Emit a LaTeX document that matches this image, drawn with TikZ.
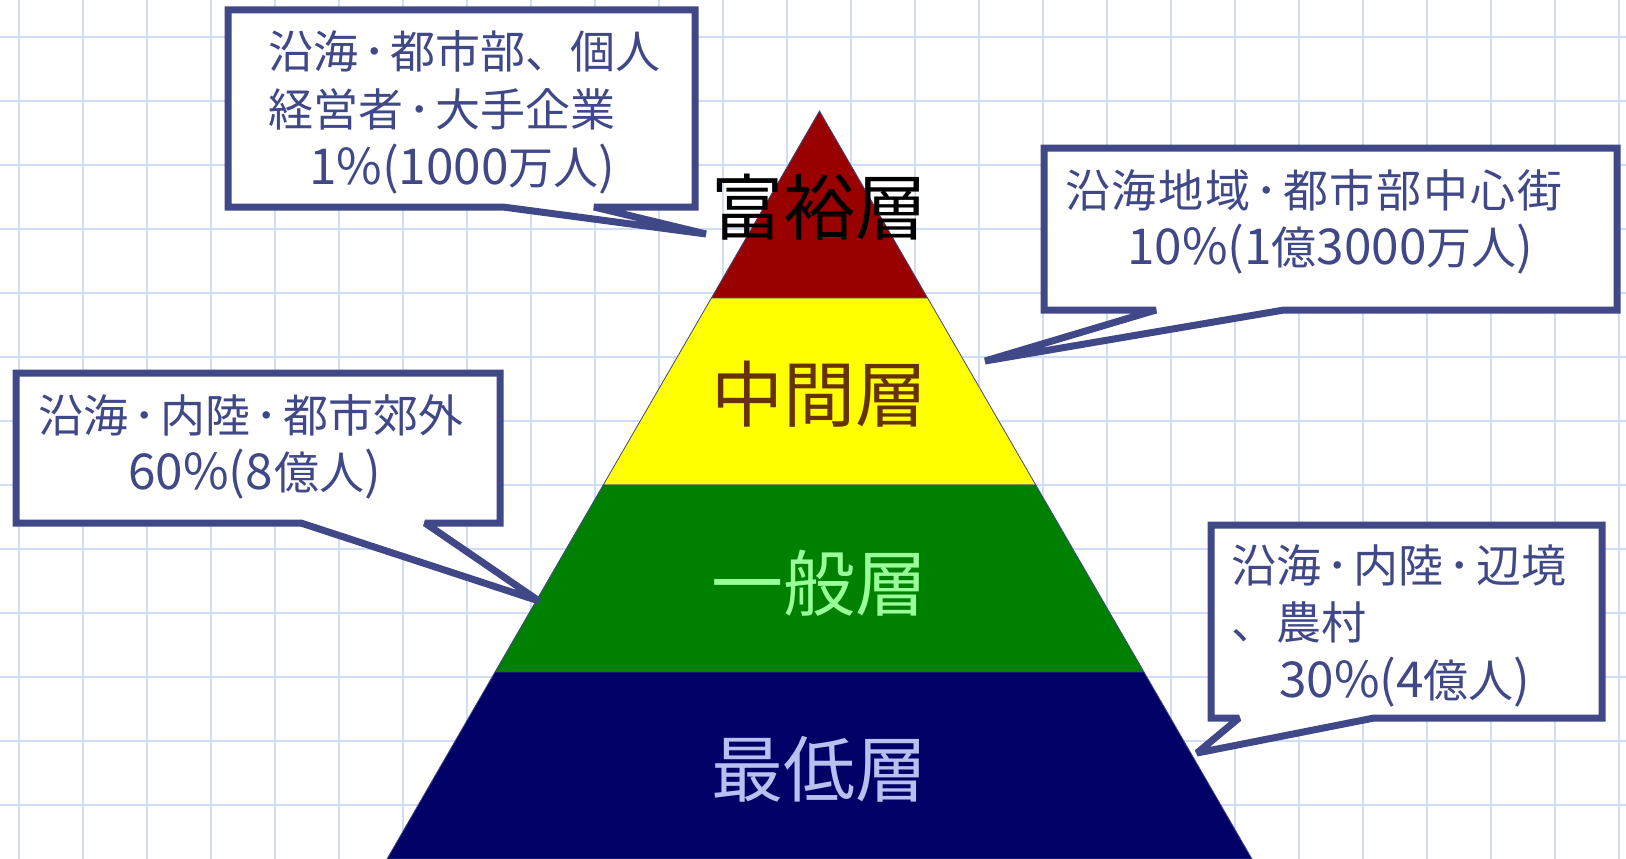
\documentclass[tikz,border=0pt]{standalone}
\usepackage{fontspec}
\setmainfont{Noto Sans CJK JP}
\newfontfamily\latinpart[Scale=1.1]{Noto Sans CJK JP}
\newfontfamily\widecjk[LetterSpace=4]{Noto Sans CJK JP}
\newcommand\nakaten{\kern5pt･\kern5pt}
\newcommand\lt[1]{{\latinpart #1}}
\definecolor{gridc}{HTML}{D0DCF8}
\definecolor{callc}{HTML}{404888}
\definecolor{bandred}{HTML}{990000}
\definecolor{bandyel}{HTML}{FFFF00}
\definecolor{bandgrn}{HTML}{008000}
\definecolor{bandnavy}{HTML}{000066}
\definecolor{txtbrown}{HTML}{663300}
\definecolor{txtlgreen}{HTML}{99FF99}
\definecolor{txtlav}{HTML}{B8C0F0}
\tikzset{
  gridline/.style={draw=gridc, line width=1.6pt},
  band/.style={draw=callc, line width=0.8pt},
  callout/.style={draw=callc, fill=white, line width=7pt, line join=miter, miter limit=2},
  calltext/.style={anchor=base west, inner sep=0pt, text=callc, font=\fontsize{45}{58}\selectfont},
  layertext/.style={anchor=base, inner sep=0pt, font=\fontsize{72}{80}\selectfont}
}
\begin{document}
\begin{tikzpicture}[x=1pt,y=-1pt]
\useasboundingbox (0,0) rectangle (1626,859);
\fill[white] (0,0) rectangle (1626,859);
% grid
\foreach \gx in {19,83,...,1626} { \draw[gridline] (\gx,0) -- (\gx,859); }
\foreach \gy in {37,101,...,859} { \draw[gridline] (0,\gy) -- (1626,\gy); }
% pyramid bands
\coordinate (apex) at (819.5,111);
\draw[band, fill=bandred] (apex) -- (927.6,298) -- (711.4,298) -- cycle;
\draw[band, fill=bandyel] (711.4,298) -- (927.6,298) -- (1035.8,485) -- (603.2,485) -- cycle;
\draw[band, fill=bandgrn] (603.2,485) -- (1035.8,485) -- (1144,672) -- (495,672) -- cycle;
\draw[band, fill=bandnavy] (495,672) -- (1144,672) -- (1252,859) -- (387,859) -- cycle;
% layer labels
\node[layertext, text=black] (l1) at (819.5,234) {富裕層};
\node[layertext, text=txtbrown] (l2) at (819.5,421) {中間層};
\node[layertext, text=txtlgreen] (l3) at (819.5,610) {一般層};
\node[layertext, text=txtlav] (l4) at (819.5,796) {最低層};
% callout 1
\coordinate (t1) at (706,234);
\draw[callout] (228,10) -- (695,10) -- (695,207) -- (594,207) -- (t1) -- (503,207) -- (228,207) -- cycle;
\node[calltext] (c1a) at (268,68.5) {沿海\nakaten 都市部、個人};
\node[calltext] (c1b) at (268,126.5) {経営者\nakaten 大手企業};
\node[calltext] (c1c) at (309,184.5) {\lt{1\%(1000}万人\lt{)}};
% callout 2
\coordinate (t2) at (985,361);
\draw[callout] (1044,148) -- (1617,148) -- (1617,310) -- (1284,310) -- (t2) -- (1156,310) -- (1044,310) -- cycle;
\node[calltext] (c2a) at (1065,207.5) {\widecjk 沿海地域\nakaten 都市部中心街};
\node[calltext] (c2b) at (1127,264.5) {\lt{10\%(1}億\lt{3000}万人\lt{)}};
% callout 3
\coordinate (t3) at (539,601);
\draw[callout] (16,373) -- (500,373) -- (500,523) -- (425,523) -- (t3) -- (301,523) -- (16,523) -- cycle;
\node[calltext] (c3a) at (38,432.5) {沿海\nakaten 内陸\nakaten 都市郊外};
\node[calltext] (c3b) at (128,489.5) {\lt{60\%(8}\kern2pt 億人\lt{)}};
% callout 4
\coordinate (t4) at (1197,753);
\draw[callout] (1211,525) -- (1602,525) -- (1602,718) -- (1374,718) -- (t4) -- (1239,718) -- (1211,718) -- cycle;
\node[calltext] (c4a) at (1231,582.5) {沿海\nakaten 内陸\nakaten 辺境};
\node[calltext] (c4b) at (1231,639.5) {、農村};
\node[calltext] (c4c) at (1279,697.5) {\lt{30\%(4}億人\lt{)}};
\end{tikzpicture}
\end{document}
